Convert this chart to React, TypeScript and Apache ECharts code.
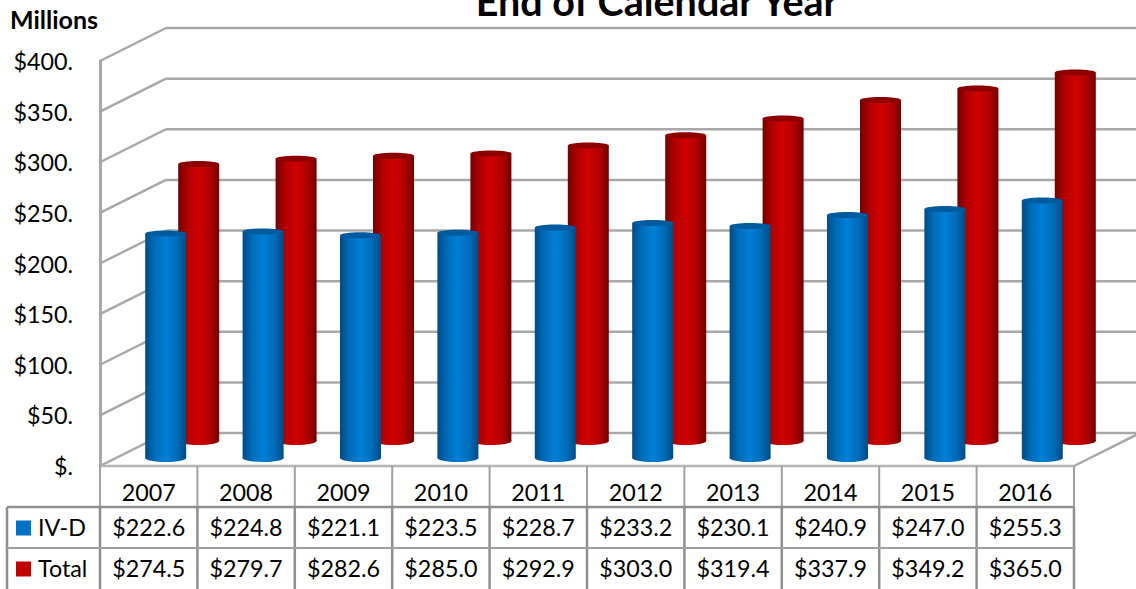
import React, { useEffect, useRef } from "react";
import * as echarts from "echarts";

const years = ["2007", "2008", "2009", "2010", "2011", "2012", "2013", "2014", "2015", "2016"];
const ivd = [222.6, 224.8, 221.1, 223.5, 228.7, 233.2, 230.1, 240.9, 247.0, 255.3];
const total = [274.5, 279.7, 282.6, 285.0, 292.9, 303.0, 319.4, 337.9, 349.2, 365.0];
const gridValues = [0, 50, 100, 150, 200, 250, 300, 350, 400];
const rowNames = ["IV-D", "Total"];
const title = "End of Calendar Year";
const unit = "Millions";

const FONT = "Lato";
const BLUE = "#0070C0";
const RED = "#C00000";
const W = 1136;
const H = 589;
const DEPTH_X = 66;
const DEPTH_Y = 33;
const WALL = "#a8a8a8";
const TABLE = "#8f8f8f";
const TEXT_SIZE = 23.3;

const money = (v: number) => "$" + v.toFixed(1);

function line(x1: number, y1: number, x2: number, y2: number, stroke: string, lineWidth: number) {
  return { type: "line", shape: { x1, y1, x2, y2 }, style: { stroke, lineWidth }, silent: true };
}

function cylinder(api: any, dx: number, dy: number, stops: string[], top: string) {
  const i = api.value(0);
  const [cx0, yBase] = api.coord([i, 0]);
  const [, yTop] = api.coord([i, api.value(1)]);
  const cx = cx0 + dx;
  const base = yBase + dy;
  const tip = yTop + dy + 1;
  const rx = 20.5;
  const fill = new echarts.graphic.LinearGradient(0, 0, 1, 0, [
    { offset: 0, color: stops[0] },
    { offset: 0.22, color: stops[1] },
    { offset: 0.5, color: stops[2] },
    { offset: 0.78, color: stops[1] },
    { offset: 1, color: stops[0] },
  ]);
  return {
    type: "group",
    children: [
      { type: "ellipse", shape: { cx, cy: base, rx, ry: 4 }, style: { fill } },
      { type: "rect", shape: { x: cx - rx, y: tip, width: rx * 2, height: base - tip }, style: { fill } },
      { type: "ellipse", shape: { cx, cy: tip, rx, ry: 3 }, style: { fill: top } },
    ],
  };
}

function renderWalls(_: any, api: any) {
  const [x0] = api.coord([0, 0]);
  const band = api.size([1, 0])[0];
  const xL = x0 - band / 2;
  const xR = xL + band * years.length;
  const yFloor = api.coord([0, 0])[1];
  const children: any[] = [];
  gridValues.forEach((v) => {
    const y = api.coord([0, v])[1];
    children.push(line(xL, y, xL + DEPTH_X, y - DEPTH_Y, WALL, 2.5));
    children.push(line(xL + DEPTH_X, y - DEPTH_Y, xR + DEPTH_X, y - DEPTH_Y, WALL, 2.5));
  });
  children.push(line(xR, yFloor, xR + DEPTH_X, yFloor - DEPTH_Y, WALL, 2.5));
  return { type: "group", children };
}

function renderTable(_: any, api: any) {
  const [x0, yTop] = api.coord([0, 0]);
  const band = api.size([1, 0])[0];
  const xL = x0 - band / 2;
  const xR = xL + band * years.length;
  const tableLeft = 7;
  const rowH = 41;
  const headH = 41;
  const r1 = yTop + headH;
  const r2 = r1 + rowH;
  const r3 = r2 + rowH;
  const children: any[] = [];
  children.push(line(xL, yTop, xR, yTop, "#b5b5b5", 2.5));
  for (let k = 0; k <= years.length; k++) {
    const x = xL + band * k;
    children.push(line(x, yTop, x, r1, "#a0a0a0", 2));
    children.push(line(x, r1, x, r3, TABLE, 2.5));
  }
  children.push(line(tableLeft, r1, tableLeft, r3, TABLE, 2.5));
  children.push(line(tableLeft, r1, xR, r1, TABLE, 2.5));
  children.push(line(tableLeft, r2, xR, r2, "#a0a0a0", 2));
  const rows = [ivd, total];
  const colors = [BLUE, RED];
  rows.forEach((vals, r) => {
    const cy = r1 + rowH * r + rowH / 2;
    children.push({
      type: "rect",
      shape: { x: 16, y: cy - 7, width: 15, height: 15 },
      style: { fill: colors[r] },
    });
    children.push({
      type: "text",
      style: {
        text: rowNames[r], x: 38, y: cy - 1, fontFamily: FONT, fontSize: TEXT_SIZE, fill: "#000",
        align: "left", verticalAlign: "middle",
      },
    });
    vals.forEach((v, c) => {
      children.push({
        type: "text",
        style: {
          text: money(v), x: x0 + band * c, y: cy - 1, fontFamily: FONT, fontSize: TEXT_SIZE, fill: "#000",
          align: "center", verticalAlign: "middle",
        },
      });
    });
  });
  return { type: "group", children };
}

export default function App() {
  const ref = useRef<HTMLDivElement>(null);
  useEffect(() => {
    const chart = echarts.init(ref.current!, undefined, { renderer: "svg" });
    chart.setOption({
      animation: false,
      backgroundColor: "#ffffff",
      title: {
        text: title,
        left: 652,
        top: -25,
        textAlign: "center",
        textStyle: { fontFamily: FONT, fontSize: 39.5, fontWeight: "bold", color: "#000" },
      },
      graphic: [
        {
          type: "text",
          left: 10,
          top: 6,
          style: { text: unit, fontFamily: FONT, fontSize: 25, fontWeight: "bold", fill: "#000" },
        },
      ],
      grid: { left: 100, right: W - 1074, top: 61, bottom: H - 466 },
      xAxis: {
        type: "category",
        data: years,
        axisLine: { show: false },
        axisTick: { show: false },
        axisLabel: { margin: 14, fontFamily: FONT, fontSize: TEXT_SIZE, color: "#000", interval: 0 },
      },
      yAxis: {
        type: "value",
        min: 0,
        max: 400,
        interval: 50,
        splitLine: { show: false },
        axisTick: { show: false },
        axisLine: { show: true, lineStyle: { color: WALL, width: 3 } },
        axisLabel: {
          margin: 27,
          fontFamily: FONT,
          fontSize: TEXT_SIZE,
          color: "#000",
          formatter: (v: number) => (v === 0 ? "$." : "$" + v + "."),
        },
      },
      series: [
        { type: "custom", name: "walls", data: [[0, 0]], renderItem: renderWalls, silent: true, z: 1 },
        {
          type: "custom",
          name: "Total",
          data: total.map((v, i) => [i, v]),
          encode: { x: 0, y: 1 },
          z: 2,
          renderItem: (_: any, api: any) => cylinder(api, 50, -25, ["#6f0000", "#b00000", "#d00000"], "#8c0000"),
        },
        {
          type: "custom",
          name: "IV-D",
          data: ivd.map((v, i) => [i, v]),
          encode: { x: 0, y: 1 },
          z: 3,
          renderItem: (_: any, api: any) => cylinder(api, 17, -8, ["#004a82", "#006bb8", "#007fd6"], "#005a9e"),
        },
        { type: "custom", name: "table", data: [[0, 0]], renderItem: renderTable, silent: true, z: 4 },
      ],
    });
    return () => chart.dispose();
  }, []);
  return <div ref={ref} style={{ position: "fixed", left: 0, top: 0, width: W, height: H }} />;
}
